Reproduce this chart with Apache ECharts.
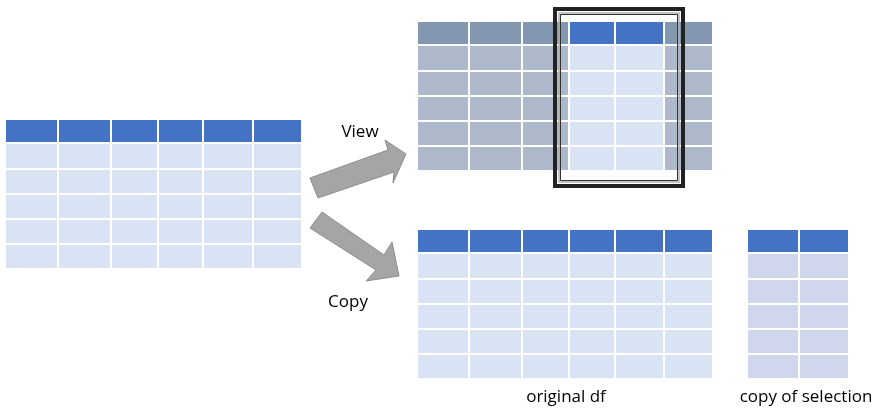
<!DOCTYPE html>
<html><head><meta charset="utf-8">
<script src="https://cdn.jsdelivr.net/npm/echarts@6/dist/echarts.min.js"></script>
<style>html,body{margin:0;padding:0;background:#fff}#c{width:886px;height:410px}</style>
</head><body><div id="c"></div>
<script>
// Table layouts (diagram units = pixels of the 886x410 canvas)
const leftCols = [5, 58, 111, 158, 203, 253, 302];
const leftRows = [119, 143, 169, 194, 219, 244, 269];
const wideCols = [417, 469, 522, 569, 615, 664, 713];
const viewRows = [21, 45, 71, 96, 121, 146, 171];
const copyRows = [229, 253, 279, 304, 329, 354, 379];
const selCols = [747, 799, 849];
const viewSelected = [3, 4];
const viewArrow = [[310,178],[388,150],[385,140],[406,154],[393,183],[394,172],[318,198]];
const copyArrow = [[322,212],[384,255],[392,242],[399,276],[366,281],[376,270],[310,228]];
const frame = [555, 9, 683, 186];
const labels = [["View",360,132],["Copy",348,302],["original df",566,397],["copy of selection",806,397]];

const C = {hd:'#4472c4', bd:'#dae3f3', ghd:'#8497b0', gbd:'#adb9ca', sbd:'#d0d6ec'};
function cells(cols, rows, style){
  const out=[];
  for(let r=0;r<rows.length-1;r++) for(let c=0;c<cols.length-1;c++){
    out.push([cols[c],cols[c+1],rows[r],rows[r+1],style(r,c)]);
  }
  return out;
}
const cellData = [].concat(
  cells(leftCols,leftRows,(r)=>r===0?'hd':'bd'),
  cells(wideCols,viewRows,(r,c)=>viewSelected.includes(c)?(r===0?'hd':'bd'):(r===0?'ghd':'gbd')),
  cells(wideCols,copyRows,(r)=>r===0?'hd':'bd'),
  cells(selCols,copyRows,(r)=>r===0?'hd':'sbd')
);

const chart = echarts.init(document.getElementById('c'));
chart.setOption({
  animation:false,
  grid:{left:0,right:0,top:0,bottom:0},
  xAxis:{type:'value',min:0,max:886,show:false},
  yAxis:{type:'value',min:0,max:410,inverse:true,show:false},
  series:[
    {type:'custom',data:cellData,renderItem:(p,api)=>{
      const a=api.coord([api.value(0),api.value(2)]), b=api.coord([api.value(1),api.value(3)]);
      const d=cellData[p.dataIndex];
      return {type:'rect',shape:{x:a[0],y:a[1],width:b[0]-a[0],height:b[1]-a[1]},
        style:{fill:C[d[4]],stroke:'#fff',lineWidth:2}};
    }},
    {type:'custom',data:[0,1],renderItem:(p,api)=>{
      const pts=(p.dataIndex===0?viewArrow:copyArrow).map(q=>api.coord(q));
      return {type:'polygon',shape:{points:pts},style:{fill:'#a5a5a5',stroke:'#8c8c8c',lineWidth:1}};
    }},
    {type:'custom',data:[[frame[0],frame[1],frame[2],frame[3]]],renderItem:(p,api)=>{
      const a=api.coord([api.value(0),api.value(1)]), b=api.coord([api.value(2),api.value(3)]);
      const w=b[0]-a[0], h=b[1]-a[1];
      return {type:'group',children:[
        {type:'rect',shape:{x:a[0],y:a[1],width:w,height:h},style:{fill:null,stroke:'#222',lineWidth:4}},
        {type:'rect',shape:{x:a[0]+4,y:a[1]+4,width:w-8,height:h-8},style:{fill:null,stroke:'#b0b0b0',lineWidth:1.5}},
        {type:'rect',shape:{x:a[0]+5.5,y:a[1]+5.5,width:w-11,height:h-11},style:{fill:null,stroke:'#333',lineWidth:1}}
      ]};
    }},
    {type:'custom',data:labels.map(l=>[l[1],l[2]]),renderItem:(p,api)=>{
      const a=api.coord([api.value(0),api.value(1)]);
      return {type:'text',x:a[0],y:a[1],style:{text:labels[p.dataIndex][0],fill:'#000',
        font:'17px "Open Sans", "Liberation Sans", sans-serif',align:'center',verticalAlign:'middle'}};
    }}
  ]
});
</script></body></html>
